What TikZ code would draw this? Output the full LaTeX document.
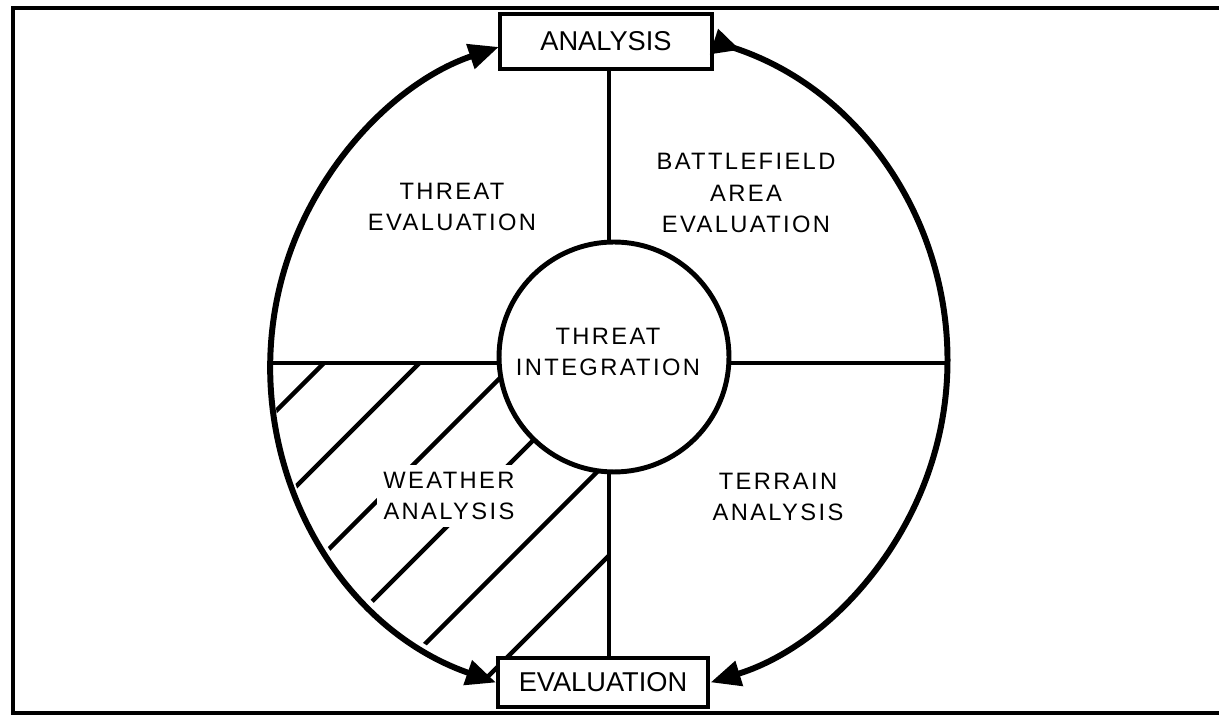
\documentclass[tikz,border=0pt]{standalone}
\usepackage{fontspec}
\setmainfont{Liberation Sans}
\newfontfamily\spacedfont{Liberation Sans}[LetterSpace=10]
\usetikzlibrary{arrows.meta}

\begin{document}
\begin{tikzpicture}[x=0.02cm, y=0.02cm,
  ringline/.style={line width=3.4pt},
  divider/.style={line width=2.3pt},
  hatchline/.style={line width=2.6pt},
  stepbox/.style={rectangle, draw, line width=2.3pt, fill=white, inner sep=0pt, font=\fontsize{15.5}{18}\selectfont},
  region/.style={align=center, font=\spacedfont\fontsize{13.5}{18}\selectfont},
  head/.tip={Triangle[length=0.6cm,width=0.5cm]},
  backhead/.tip={Triangle[reversed,length=0.55cm,width=0.5cm]}]

  \useasboundingbox (0,0) rectangle (1219,715);

  % frame, open on the right
  \draw[line width=1.8pt] (1219,707) -- (13,707) -- (13,2) -- (1219,2);

  \node[circle, minimum size=13.44cm, inner sep=0pt, outer sep=0pt] (ring) at (609,352) {};

  % hatched quarter (weather)
  \begin{scope}
    \clip (ring.center) rectangle (200,0);
    \clip (ring.center) circle (336);
    \foreach \k in {0,...,5}
      \draw[hatchline] (200,228-95.5*\k) -- (700,728-95.5*\k);
  \end{scope}

  \draw[divider] (ring.west) -- (ring.east);
  \draw[divider] (ring.north) -- (ring.south);

  \node[circle, draw, fill=white, line width=2.8pt, minimum size=4.6cm, inner sep=0pt] (integ) at (614,358) {};

  \node[stepbox, minimum width=4.24cm, minimum height=1.1cm] (anbox) at (606,673.5) {ANALYSIS};
  \node[stepbox, minimum width=4.2cm, minimum height=0.98cm] (evalbox) at (603,32.5) {EVALUATION};

  \draw[ringline, {head}-{head}] (evalbox.west) arc[start angle=250.8, end angle=108.7, radius=336];
  \draw[ringline, {backhead}-{head}] (anbox.east) arc[start angle=72.2, end angle=-72.8, radius=336];

  \node[region] (threateval) at (452,508) {THREAT\\EVALUATION};
  \node[region] (battle) at (746,522) {BATTLEFIELD\\AREA\\EVALUATION};
  \node[region] (integlabel) at (608,363) {THREAT\\INTEGRATION};
  \node[region] (terrain) at (778,218) {TERRAIN\\ANALYSIS};
  \node[region, fill=white, inner sep=0.13cm] (weather) at (449,219) {WEATHER\\ANALYSIS};

\end{tikzpicture}
\end{document}
